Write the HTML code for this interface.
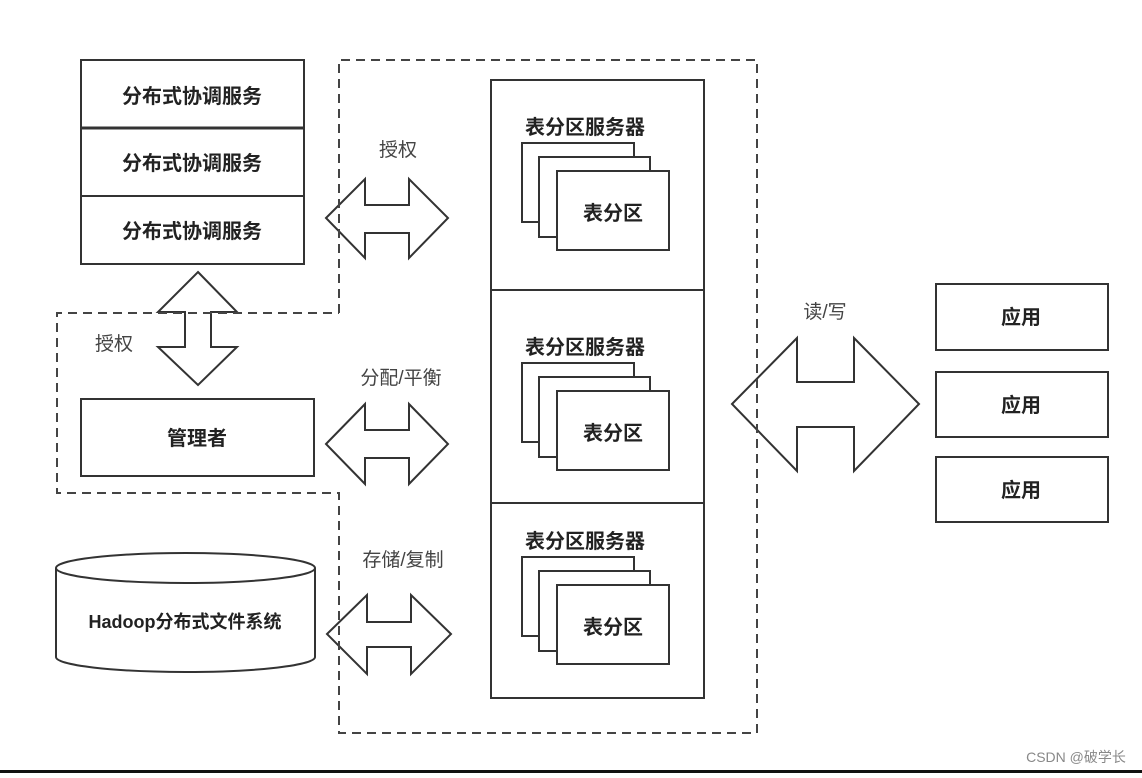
<!DOCTYPE html>
<html><head><meta charset="utf-8"><style>
body{margin:0;background:#fff;}
svg text{font-family:"Liberation Sans","Noto Sans CJK SC",sans-serif;}
</style></head><body>
<svg width="1142" height="773" viewBox="0 0 1142 773" xmlns="http://www.w3.org/2000/svg">
<g fill="#fff" stroke="#333" stroke-width="2">
<rect x="81" y="60" width="223" height="204"/>
<line x1="81" y1="128" x2="304" y2="128" stroke-width="3"/>
<line x1="81" y1="196" x2="304" y2="196"/>
<rect x="81" y="399" width="233" height="77"/>
<rect x="491" y="80" width="213" height="618"/>
<line x1="491" y1="290" x2="704" y2="290"/>
<line x1="491" y1="503" x2="704" y2="503"/>
<rect x="522" y="143" width="112" height="79"/><rect x="539" y="157" width="111" height="80"/><rect x="557" y="171" width="112" height="79"/>
<rect x="522" y="363" width="112" height="79"/><rect x="539" y="377" width="111" height="80"/><rect x="557" y="391" width="112" height="79"/>
<rect x="522" y="557" width="112" height="79"/><rect x="539" y="571" width="111" height="80"/><rect x="557" y="585" width="112" height="79"/>
<rect x="936" y="284" width="172" height="66"/>
<rect x="936" y="372" width="172" height="65"/>
<rect x="936" y="457" width="172" height="65"/>
<path d="M56,568 V657 A129.5,15 0 0 0 315,657 V568"/>
<ellipse cx="185.5" cy="568" rx="129.5" ry="15"/>
<path d="M326,218 L365,179 V205 H409 V179 L448,218 L409,258 V233 H365 V258 Z"/>
<path d="M326,444 L365,404 V430 H409 V404 L448,444 L409,484 V458 H365 V484 Z"/>
<path d="M327,634 L367,595 V622 H411 V595 L451,634 L411,674 V647 H367 V674 Z"/>
<path d="M732,404 L797,338 V382 H854 V338 L919,404 L854,471 V427 H797 V471 Z"/>
<path d="M198,272 L237,312 H211 V347 H237 L198,385 L158,347 H185 V312 H158 Z"/>
</g>
<g fill="none" stroke="#444" stroke-width="2" stroke-dasharray="9,6">
<path d="M339,313 V60 H757 V733 H339 V493 H57 V313 H339"/>
</g>
<g font-size="20" font-weight="bold" fill="#222" text-anchor="middle">
<text x="192" y="103">分布式协调服务</text>
<text x="192" y="170">分布式协调服务</text>
<text x="192" y="238">分布式协调服务</text>
<text x="197" y="445">管理者</text>
<text x="585" y="134">表分区服务器</text>
<text x="585" y="354">表分区服务器</text>
<text x="585" y="548">表分区服务器</text>
<text x="613" y="220">表分区</text>
<text x="613" y="440">表分区</text>
<text x="613" y="634">表分区</text>
<text x="1021" y="324">应用</text>
<text x="1021" y="412">应用</text>
<text x="1021" y="497">应用</text>
<text x="185" y="628" font-size="18">Hadoop分布式文件系统</text>
</g>
<g font-size="19" fill="#444" text-anchor="middle">
<text x="398" y="156">授权</text>
<text x="114" y="350">授权</text>
<text x="401" y="384">分配/平衡</text>
<text x="403" y="566">存储/复制</text>
<text x="825" y="318">读/写</text>
</g>
<text x="1076" y="762" font-size="14" fill="#888" text-anchor="middle">CSDN @破学长</text>
<rect x="0" y="770" width="1142" height="3" fill="#111"/>
</svg>
</body></html>
